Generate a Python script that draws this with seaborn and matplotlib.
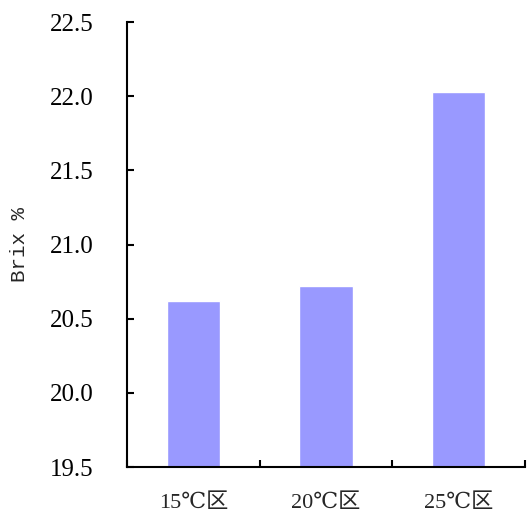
import matplotlib
matplotlib.use('Agg')
import matplotlib.pyplot as plt
import seaborn as sns
import pandas as pd

# data
zones = ['15℃区', '20℃区', '25℃区']
brix = [20.62, 20.72, 22.03]
yticks = [19.5, 20.0, 20.5, 21.0, 21.5, 22.0, 22.5]

df = pd.DataFrame({'zone': zones, 'brix': brix})

sns.set_style('white')
plt.rcParams['font.family'] = ['Liberation Serif', 'DejaVu Serif', 'Noto Sans CJK SC']

fig = plt.figure(figsize=(5.27, 5.15), dpi=100)
ax = fig.add_axes([127/527, 48/515, 398/527, 445/515])

sns.barplot(x='zone', y='brix', data=df, color='#9999FF', width=0.4,
            saturation=1, ax=ax)

ax.set_ylim(19.5, 22.5)
ax.set_xlim(-0.5, 2.5)
ax.set_yticks(yticks)
ax.set_yticklabels([f'{v:.1f}' for v in yticks], fontsize=18)
ax.tick_params(axis='y', left=True, direction='in', length=5, width=1.5,
               pad=24, colors='black')
ax.set_xticks(range(len(zones)))
ax.set_xticklabels(zones, fontsize=16)
ax.tick_params(axis='x', which='major', bottom=False, pad=16)
ax.set_xticks([-0.5, 0.5, 1.5, 2.5], minor=True)
ax.tick_params(axis='x', which='minor', bottom=True, direction='in', length=5,
               width=1.5, color='black')

ax.set_xlabel('')
ax.set_ylabel('Brix %', fontsize=15, family='Liberation Mono')
ax.yaxis.set_label_coords(-0.245, 0.5)

for s in ['top', 'right']:
    ax.spines[s].set_visible(False)
for s in ['left', 'bottom']:
    ax.spines[s].set_color('black')
    ax.spines[s].set_linewidth(1.5)

fig.savefig('out.png', dpi=100)
